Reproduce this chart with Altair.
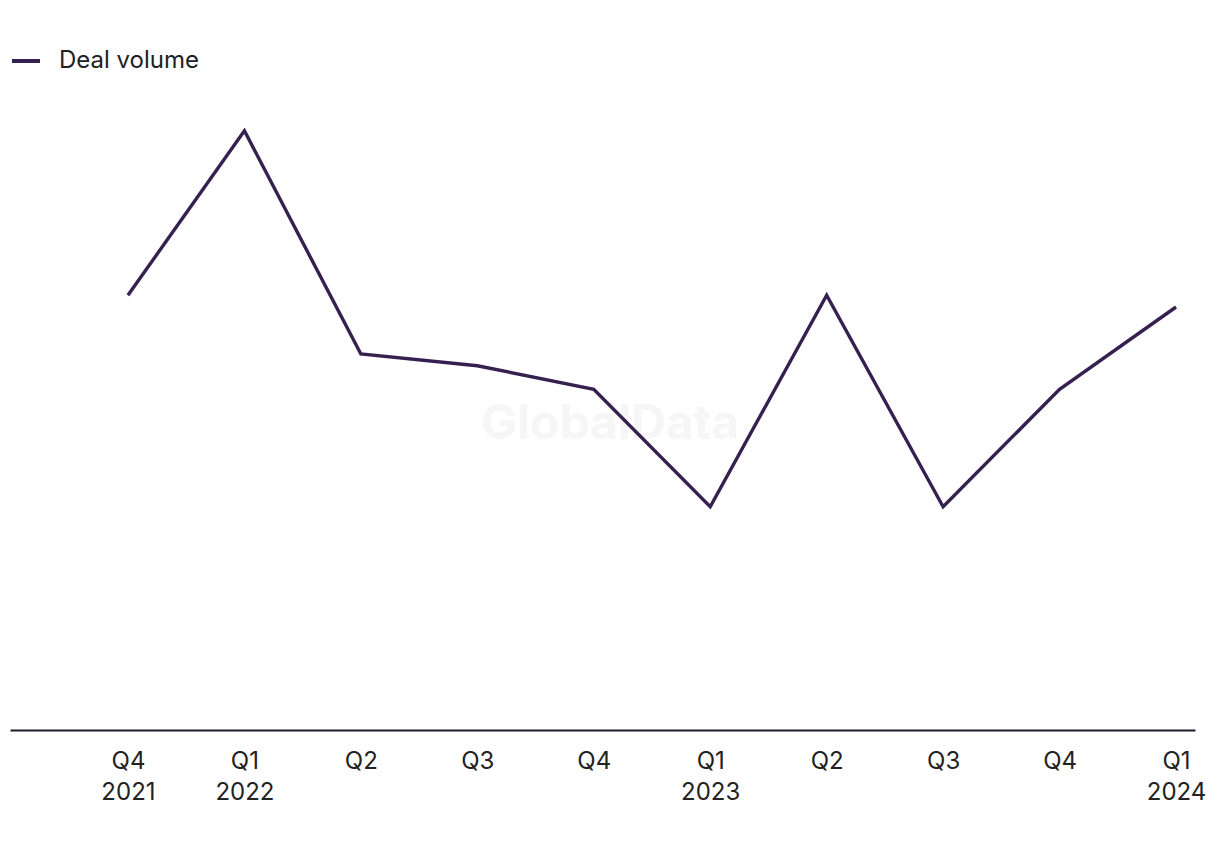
import altair as alt
import pandas as pd

quarters = ["Q4", "Q1", "Q2", "Q3", "Q4", "Q1", "Q2", "Q3", "Q4", "Q1"]
years = ["2021", "2022", "", "", "", "2023", "", "", "", "2024"]
deal_volume = [37, 51, 32, 31, 29, 19, 37, 19, 29, 36]

df = pd.DataFrame({
    "idx": list(range(len(deal_volume))),
    "value": deal_volume,
    "series": ["Deal volume"] * len(deal_volume),
})

label_arr = "[" + ",".join(
    "[" + ",".join(f"'{p}'" for p in ([q, y] if y else [q])) + "]"
    for q, y in zip(quarters, years)
) + "]"

FONT = "Inter"
LINE_COLOR = "#36204f"

x_scale = alt.Scale(domain=[-1.013, 9.163], nice=False, zero=False)
y_scale = alt.Scale(domain=[0, 60], nice=False)

x_enc = alt.X(
    "idx:Q",
    scale=x_scale,
    axis=alt.Axis(
        values=list(range(len(deal_volume))),
        labelExpr=f"{label_arr}[datum.value]",
        grid=False,
        ticks=False,
        domainColor="#1a1a2a",
        domainWidth=2,
        labelFont=FONT,
        labelFontSize=24,
        labelColor="#222222",
        labelPadding=19,
        labelLineHeight=31,
        labelBaseline="top",
        labelFlush=False,
        labelOverlap=False,
        title=None,
    ),
)
y_enc = alt.Y("value:Q", scale=y_scale, axis=None)

wm_df = pd.DataFrame({"t": ["GlobalData"], "idx": [4.14], "value": [26]})
watermark = alt.Chart(wm_df).mark_text(
    font=FONT, fontSize=48, fontWeight="bold", color="#f6f6f6", align="center", baseline="middle"
).encode(
    text="t:N",
    x=x_enc,
    y=y_enc,
)

line = alt.Chart(df).mark_line(strokeWidth=3.4, strokeCap="butt", strokeJoin="miter").encode(
    x=x_enc,
    y=y_enc,
    color=alt.Color(
        "series:N",
        scale=alt.Scale(range=[LINE_COLOR]),
        legend=alt.Legend(
            title=None,
            orient="none",
            legendX=0,
            legendY=20,
            symbolType="stroke",
            symbolSize=784,
            symbolStrokeWidth=4,
            labelFont=FONT,
            labelFontSize=24,
            labelColor="#222222",
            labelOffset=17,
        ),
    ),
)

chart = alt.layer(watermark, line).properties(
    width=1185,
    height=705,
    padding={"left": 10, "top": 25, "right": 25, "bottom": 120},
    autosize=alt.AutoSizeParams(type="none"),
    background="white",
).configure_view(stroke=None)

chart.save("out.html", embed_options={"renderer": "svg", "actions": False})
